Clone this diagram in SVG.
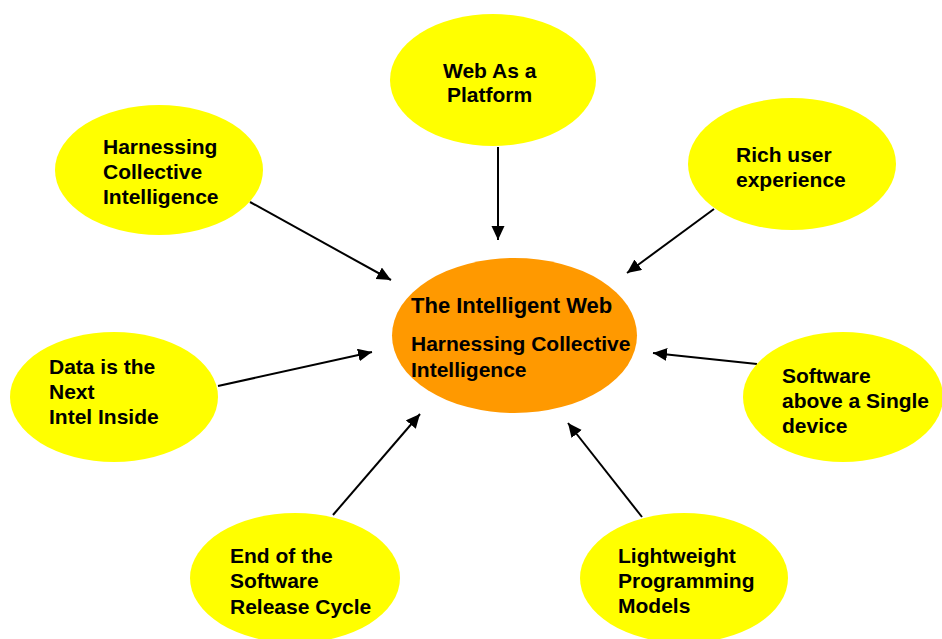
<svg xmlns="http://www.w3.org/2000/svg" width="942" height="639" viewBox="0 0 942 639">
  <style>
    .bg { fill: #ffffff; }
    .topic { fill: #ffff00; }
    .core { fill: #ff9900; }
    .label { font-family: "Liberation Sans", Arial, sans-serif; font-weight: bold; font-size: 21px; fill: #000000; }
    .title { font-size: 22px; }
    .link { stroke: #000000; stroke-width: 2; fill: none; marker-end: url(#head); }
  </style>
  <defs>
    <marker id="head" markerUnits="userSpaceOnUse" markerWidth="15" markerHeight="14" refX="14" refY="6.5" orient="auto">
      <path d="M0,0 L14,6.5 L0,13 Z" fill="#000000"/>
    </marker>
  </defs>

  <rect class="bg" x="0" y="0" width="942" height="639"/>

  <!-- connectors: every topic points at the central node -->
  <g id="connectors">
    <line class="link" x1="498" y1="147" x2="498" y2="240"/>
    <line class="link" x1="250" y1="202" x2="391" y2="280"/>
    <line class="link" x1="714" y1="209" x2="627" y2="273"/>
    <line class="link" x1="218" y1="386" x2="372" y2="352"/>
    <line class="link" x1="757" y1="364" x2="653" y2="353"/>
    <line class="link" x1="333" y1="515" x2="420" y2="414"/>
    <line class="link" x1="642" y1="517" x2="568" y2="423"/>
  </g>

  <g id="node-web-platform">
    <ellipse class="topic" cx="493" cy="80" rx="103" ry="66"/>
    <text class="label" x="443" y="78">Web As a</text>
    <text class="label" x="447" y="102">Platform</text>
  </g>

  <g id="node-collective-intelligence">
    <ellipse class="topic" cx="159" cy="170" rx="104" ry="65"/>
    <text class="label" x="103" y="154">Harnessing</text>
    <text class="label" x="103" y="179">Collective</text>
    <text class="label" x="103" y="204">Intelligence</text>
  </g>

  <g id="node-rich-ux">
    <ellipse class="topic" cx="792" cy="164" rx="104" ry="66"/>
    <text class="label" x="736" y="162">Rich user</text>
    <text class="label" x="736" y="187">experience</text>
  </g>

  <g id="node-intelligent-web">
    <ellipse class="core" cx="514.5" cy="335.5" rx="122.5" ry="77.5"/>
    <text class="label title" x="411" y="313">The Intelligent Web</text>
    <text class="label" x="411" y="351">Harnessing Collective</text>
    <text class="label" x="411" y="377">Intelligence</text>
  </g>

  <g id="node-data">
    <ellipse class="topic" cx="114" cy="397" rx="104" ry="65"/>
    <text class="label" x="49" y="374">Data is the</text>
    <text class="label" x="49" y="399">Next</text>
    <text class="label" x="49" y="424">Intel Inside</text>
  </g>

  <g id="node-single-device">
    <ellipse class="topic" cx="843" cy="397" rx="100" ry="65"/>
    <text class="label" x="782" y="383">Software</text>
    <text class="label" x="782" y="408">above a Single</text>
    <text class="label" x="782" y="433">device</text>
  </g>

  <g id="node-release-cycle">
    <ellipse class="topic" cx="295" cy="578" rx="105" ry="65"/>
    <text class="label" x="230" y="563">End of the</text>
    <text class="label" x="230" y="588">Software</text>
    <text class="label" x="230" y="614">Release Cycle</text>
  </g>

  <g id="node-lightweight">
    <ellipse class="topic" cx="684" cy="578" rx="104" ry="65"/>
    <text class="label" x="618" y="563">Lightweight</text>
    <text class="label" x="618" y="588">Programming</text>
    <text class="label" x="618" y="613">Models</text>
  </g>
</svg>
